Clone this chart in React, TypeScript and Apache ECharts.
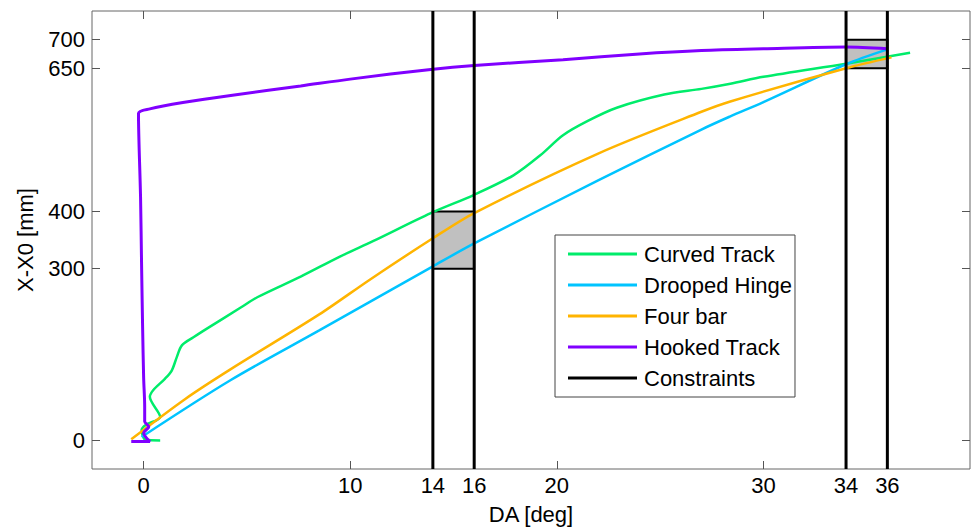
import React, { useEffect, useRef } from "react";
import * as echarts from "echarts";

const seriesNames = ["Curved Track", "Drooped Hinge", "Four bar", "Hooked Track"];
const seriesColors = ["#00ec6a", "#00c4ff", "#ffb400", "#8000ff"];

const curvedTrack: [number, number][] = [
  [0.8, 0], [0.1, 1], [-0.1, 18], [0.1, 27], [0.8, 41], [0.3, 76], [0.47, 88],
  [1.04, 108], [1.36, 122], [1.6, 145], [1.85, 166], [2.41, 180], [3.1, 196],
  [4.7, 232], [5.5, 250], [7.6, 286], [9.5, 321], [11.1, 348], [13.9, 397],
  [16, 429], [17.9, 463], [19.2, 498], [20.3, 533], [21.5, 558], [22.9, 581],
  [25.2, 604], [27, 614], [28.4, 623], [30, 635], [34, 658], [37.1, 677],
];
const droopedHinge: [number, number][] = [
  [-0.1, 6], [4.2, 105], [8.5, 192], [14, 304], [16, 344], [22, 454], [27, 543],
  [28.4, 566], [30, 591], [34, 657], [36, 683],
];
const fourBar: [number, number][] = [
  [-0.6, 2], [2, 72], [4.2, 124], [8.5, 220], [11, 282], [14, 353], [16, 397],
  [22, 501], [27, 574], [28.4, 592], [34, 650], [36.2, 669],
];
const hookedTrack: [number, number][] = [
  [-0.6, -2], [0.3, -2], [0, 13], [0.25, 24], [0.05, 33], [0.05, 59], [0, 109],
  [-0.05, 197], [-0.1, 306], [-0.15, 425], [-0.25, 571], [0.3, 579], [1.9, 590],
  [4.3, 603], [7.6, 619], [10, 631], [13.9, 648], [16, 655],
  [20.3, 665], [24, 675], [27, 681], [30, 684], [34, 687], [36, 684],
];
const curves = [curvedTrack, droopedHinge, fourBar, hookedTrack];

const constraintX = [14, 16, 34, 36];
const constraintBoxes = [
  { x: [14, 16], y: [300, 400] },
  { x: [34, 36], y: [650, 700] },
];

const xTicks = [0, 10, 14, 16, 20, 30, 34, 36];
const yTicks = [0, 300, 400, 650, 700];
const xRange = [-2.5, 40];
const yRange = [-50, 750];

const FONT = "Liberation Sans, Arial, sans-serif";
const FS = 22;

export default function App() {
  const ref = useRef<HTMLDivElement>(null);
  useEffect(() => {
    if (!ref.current) return;
    const chart = echarts.init(ref.current, undefined, { renderer: "svg" });
    const tickStyle = { show: true, inside: true, length: 8, lineStyle: { color: "#555", width: 1 } };
    const noLine = { show: false, onZero: false };
    const series: any[] = curves.map((d, i) => ({
      name: seriesNames[i],
      type: "line",
      data: d,
      showSymbol: false,
      smooth: 0.3,
      color: seriesColors[i],
      lineStyle: { color: seriesColors[i], width: i === 3 ? 3 : 2.5 },
      z: 2,
    }));
    constraintX.forEach((cx, i) => {
      series.push({
        name: "Constraints",
        type: "line",
        data: [[cx, yRange[0]], [cx, yRange[1]]],
        showSymbol: false,
        color: "#000",
        lineStyle: { color: "#000", width: 3 },
        z: 3,
        markArea: i === 0 ? {
          silent: true,
          itemStyle: { color: "#c0c0c0", borderColor: "#000", borderWidth: 2 },
          data: constraintBoxes.map((b) => [
            { coord: [b.x[0], b.y[1]] },
            { coord: [b.x[1], b.y[0]] },
          ]),
        } : undefined,
      });
    });
    chart.setOption({
      animation: false,
      textStyle: { fontFamily: FONT },
      grid: { left: 92, right: 2, top: 11, bottom: 57, show: true, borderColor: "#666", borderWidth: 1 },
      legend: {
        data: [...seriesNames, "Constraints"],
        orient: "vertical",
        left: 555,
        top: 235,
        padding: [8, 3, 8, 13],
        itemGap: 9,
        itemWidth: 69,
        itemHeight: 3,
        icon: "rect",
        borderColor: "#444",
        borderWidth: 1,
        backgroundColor: "#fff",
        textStyle: { fontSize: FS, lineHeight: 22, color: "#000", fontFamily: FONT, padding: [0, 0, 0, 2] },
      },
      xAxis: [
        {
          type: "value", min: xRange[0], max: xRange[1], position: "bottom",
          name: "DA [deg]", nameLocation: "middle", nameGap: 34,
          nameTextStyle: { fontSize: FS, color: "#000", fontFamily: FONT },
          axisLine: noLine,
          splitLine: { show: false },
          axisTick: { ...tickStyle, customValues: xTicks },
          axisLabel: { customValues: xTicks, fontSize: FS, color: "#000", margin: 5, fontFamily: FONT },
        },
        {
          type: "value", min: xRange[0], max: xRange[1], position: "top",
          axisLine: noLine, splitLine: { show: false },
          axisTick: { ...tickStyle, customValues: xTicks },
          axisLabel: { show: false },
        },
      ],
      yAxis: [
        {
          type: "value", min: yRange[0], max: yRange[1], position: "left",
          name: "X-X0 [mm]", nameLocation: "middle", nameGap: 56,
          nameTextStyle: { fontSize: FS, color: "#000", fontFamily: FONT },
          axisLine: noLine, splitLine: { show: false },
          axisTick: { ...tickStyle, customValues: yTicks },
          axisLabel: { customValues: yTicks, fontSize: FS, color: "#000", margin: 7, fontFamily: FONT },
        },
        {
          type: "value", min: yRange[0], max: yRange[1], position: "right",
          axisLine: noLine, splitLine: { show: false },
          axisTick: { ...tickStyle, customValues: yTicks },
          axisLabel: { show: false },
        },
      ],
      series,
    });
    return () => chart.dispose();
  }, []);
  return <div ref={ref} style={{ position: "absolute", left: 0, top: 0, width: 972, height: 530, background: "#fff" }} />;
}
